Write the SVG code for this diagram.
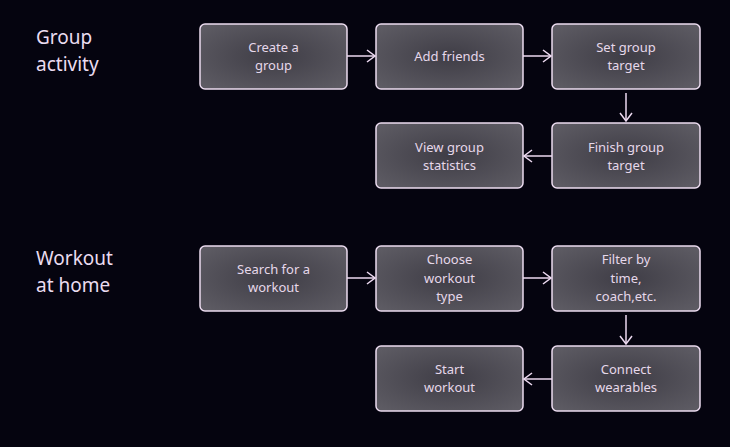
<svg xmlns="http://www.w3.org/2000/svg" width="730" height="447" viewBox="0 0 730 447">
<defs>
<radialGradient id="g" cx="50%" cy="50%" r="65%">
<stop offset="0" stop-color="#3f3d46"/>
<stop offset="1" stop-color="#5d5b63"/>
</radialGradient>
<marker id="a" viewBox="0 0 10 14" refX="9" refY="7" markerWidth="10" markerHeight="14" markerUnits="userSpaceOnUse" orient="auto">
<path d="M1,1 L9,7 L1,13" fill="none" stroke="#ecd9f0" stroke-width="1.5"/>
</marker>
<style>
.b{fill:url(#g);stroke:#ecdcf0;stroke-width:1.5}
.t{font-family:"Noto Sans","Open Sans",sans-serif;font-size:13px;fill:#e6d8ea;text-anchor:middle}
.h{font-family:"Noto Sans","Open Sans",sans-serif;font-size:19px;fill:#eadcf0}
.c{stroke:#ecd9f0;stroke-width:1.5;fill:none;marker-end:url(#a)}
</style>
</defs>
<rect width="730" height="447" fill="#05040f"/>
<g id="title1"><text class="h" x="36" y="44">Group</text><text class="h" x="36" y="71">activity</text></g>
<g id="title2"><text class="h" x="36" y="265">Workout</text><text class="h" x="36" y="292">at home</text></g>
<g id="n1"><rect class="b" x="200" y="24" width="147" height="65" rx="5"/><text class="t" x="273.5" y="52">Create a</text><text class="t" x="273.5" y="70">group</text></g>
<g id="n2"><rect class="b" x="376" y="24" width="147" height="65" rx="5"/><text class="t" x="449.5" y="61">Add friends</text></g>
<g id="n3"><rect class="b" x="552" y="24" width="148" height="65" rx="5"/><text class="t" x="626" y="52">Set group</text><text class="t" x="626" y="70">target</text></g>
<g id="n4"><rect class="b" x="552" y="123" width="148" height="65" rx="5"/><text class="t" x="626" y="152">Finish group</text><text class="t" x="626" y="170">target</text></g>
<g id="n5"><rect class="b" x="376" y="123" width="147" height="65" rx="5"/><text class="t" x="449.5" y="152">View group</text><text class="t" x="449.5" y="170">statistics</text></g>
<g id="n6"><rect class="b" x="200" y="246" width="147" height="65" rx="5"/><text class="t" x="273.5" y="274">Search for a</text><text class="t" x="273.5" y="292">workout</text></g>
<g id="n7"><rect class="b" x="376" y="246" width="147" height="65" rx="5"/><text class="t" x="449.5" y="264">Choose</text><text class="t" x="449.5" y="283">workout</text><text class="t" x="449.5" y="301">type</text></g>
<g id="n8"><rect class="b" x="552" y="246" width="148" height="65" rx="5"/><text class="t" x="626" y="264">Filter by</text><text class="t" x="626" y="283">time,</text><text class="t" x="626" y="301">coach,etc.</text></g>
<g id="n9"><rect class="b" x="552" y="346" width="148" height="65" rx="5"/><text class="t" x="626" y="374">Connect</text><text class="t" x="626" y="392">wearables</text></g>
<g id="n10"><rect class="b" x="376" y="346" width="147" height="65" rx="5"/><text class="t" x="449.5" y="374">Start</text><text class="t" x="449.5" y="392">workout</text></g>
<g id="connectors">
<line class="c" x1="347" y1="56" x2="375" y2="56"/>
<line class="c" x1="523" y1="56" x2="551" y2="56"/>
<line class="c" x1="626" y1="93" x2="626" y2="121"/>
<line class="c" x1="552" y1="156" x2="524" y2="156"/>
<line class="c" x1="347" y1="278" x2="375" y2="278"/>
<line class="c" x1="523" y1="278" x2="551" y2="278"/>
<line class="c" x1="626" y1="315" x2="626" y2="344"/>
<line class="c" x1="552" y1="379" x2="524" y2="379"/>
</g>
</svg>
